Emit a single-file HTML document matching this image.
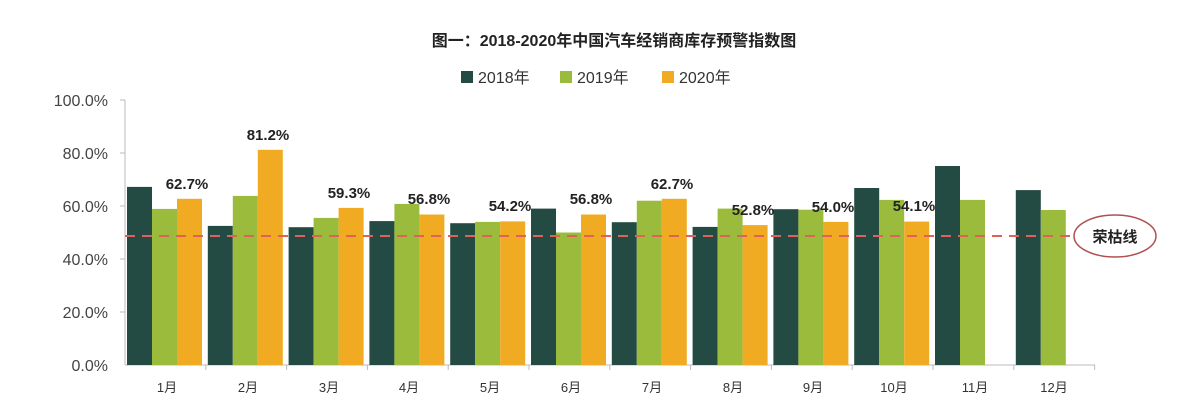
<!DOCTYPE html>
<html><head><meta charset="utf-8"><style>
body{margin:0;background:#fff;}
svg text{font-family:"Liberation Sans","Noto Sans CJK SC",sans-serif;}
</style></head><body>
<svg width="1188" height="408" xmlns="http://www.w3.org/2000/svg">
<text x="614" y="46" text-anchor="middle" font-size="16" font-weight="bold" fill="#222">图一：2018-2020年中国汽车经销商库存预警指数图</text>
<rect x="461" y="71" width="12" height="12" fill="#234a43"/><text x="478" y="83" font-size="16" fill="#333">2018年</text>
<rect x="560" y="71" width="12" height="12" fill="#9bbb3c"/><text x="577" y="83" font-size="16" fill="#333">2019年</text>
<rect x="662" y="71" width="12" height="12" fill="#f0ab23"/><text x="679" y="83" font-size="16" fill="#333">2020年</text>
<g font-size="16" fill="#444" text-anchor="end">
<text x="108" y="106">100.0%</text><text x="108" y="159">80.0%</text><text x="108" y="212">60.0%</text>
<text x="108" y="265">40.0%</text><text x="108" y="318">20.0%</text><text x="108" y="371">0.0%</text>
</g>
<line x1="125" y1="100" x2="125" y2="365" stroke="#bbb"/>
<line x1="125" y1="365" x2="1095" y2="365" stroke="#bbb"/>
<g stroke="#bbb">
<line x1="120" y1="100" x2="125" y2="100"/><line x1="120" y1="153" x2="125" y2="153"/><line x1="120" y1="206" x2="125" y2="206"/><line x1="120" y1="259" x2="125" y2="259"/><line x1="120" y1="312" x2="125" y2="312"/>
<line x1="205.8" y1="365" x2="205.8" y2="370"/><line x1="286.6" y1="365" x2="286.6" y2="370"/><line x1="367.4" y1="365" x2="367.4" y2="370"/><line x1="448.2" y1="365" x2="448.2" y2="370"/><line x1="529" y1="365" x2="529" y2="370"/><line x1="609.8" y1="365" x2="609.8" y2="370"/><line x1="690.6" y1="365" x2="690.6" y2="370"/><line x1="771.4" y1="365" x2="771.4" y2="370"/><line x1="852.2" y1="365" x2="852.2" y2="370"/><line x1="933" y1="365" x2="933" y2="370"/><line x1="1013.8" y1="365" x2="1013.8" y2="370"/><line x1="1094.6" y1="365" x2="1094.6" y2="370"/>
</g>
<g fill="#234a43">
<rect x="127" y="186.9" width="25" height="178.1"/>
<rect x="207.8" y="225.9" width="25" height="139.1"/>
<rect x="288.6" y="227.2" width="25" height="137.8"/>
<rect x="369.4" y="221.1" width="25" height="143.9"/>
<rect x="450.2" y="223.2" width="25" height="141.8"/>
<rect x="531" y="208.6" width="25" height="156.4"/>
<rect x="611.8" y="222.2" width="25" height="142.8"/>
<rect x="692.6" y="226.9" width="25" height="138.1"/>
<rect x="773.4" y="209.2" width="25" height="155.8"/>
<rect x="854.2" y="188" width="25" height="177"/>
<rect x="935" y="166" width="25" height="199"/>
<rect x="1015.8" y="190.1" width="25" height="174.9"/>
</g>
<g fill="#9bbb3c">
<rect x="152" y="208.9" width="25" height="156.1"/>
<rect x="232.8" y="195.9" width="25" height="169.1"/>
<rect x="313.6" y="217.9" width="25" height="147.1"/>
<rect x="394.4" y="203.9" width="25" height="161.1"/>
<rect x="475.2" y="221.9" width="25" height="143.1"/>
<rect x="556" y="232.5" width="25" height="132.5"/>
<rect x="636.8" y="200.7" width="25" height="164.3"/>
<rect x="717.6" y="208.6" width="25" height="156.4"/>
<rect x="798.4" y="209.7" width="25" height="155.3"/>
<rect x="879.2" y="199.9" width="25" height="165.1"/>
<rect x="960" y="199.9" width="25" height="165.1"/>
<rect x="1040.8" y="210" width="25" height="155"/>
</g>
<g fill="#f0ab23">
<rect x="177" y="198.8" width="25" height="166.2"/>
<rect x="257.8" y="149.8" width="25" height="215.2"/>
<rect x="338.6" y="207.9" width="25" height="157.1"/>
<rect x="419.4" y="214.5" width="25" height="150.5"/>
<rect x="500.2" y="221.4" width="25" height="143.6"/>
<rect x="581" y="214.5" width="25" height="150.5"/>
<rect x="661.8" y="198.8" width="25" height="166.2"/>
<rect x="742.6" y="225.1" width="25" height="139.9"/>
<rect x="823.4" y="221.9" width="25" height="143.1"/>
<rect x="904.2" y="221.6" width="25" height="143.4"/>
</g>
<g font-size="15" font-weight="bold" fill="#222" text-anchor="middle">
<text x="187" y="189">62.7%</text>
<text x="268" y="140">81.2%</text>
<text x="349" y="198">59.3%</text>
<text x="429" y="204">56.8%</text>
<text x="510" y="211">54.2%</text>
<text x="591" y="204">56.8%</text>
<text x="672" y="189">62.7%</text>
<text x="753" y="215">52.8%</text>
<text x="833" y="212">54.0%</text>
<text x="914" y="211">54.1%</text>
</g>
<g font-size="13" fill="#333" text-anchor="middle">
<text x="167" y="392">1月</text><text x="248" y="392">2月</text><text x="329" y="392">3月</text><text x="409" y="392">4月</text><text x="490" y="392">5月</text><text x="571" y="392">6月</text><text x="652" y="392">7月</text><text x="733" y="392">8月</text><text x="813" y="392">9月</text><text x="894" y="392">10月</text><text x="975" y="392">11月</text><text x="1054" y="392">12月</text>
</g>
<line x1="125" y1="236" x2="1074" y2="236" stroke="#e0605a" stroke-width="2" stroke-dasharray="10,7"/>
<ellipse cx="1115" cy="236" rx="41" ry="21" fill="#fff" stroke="#b05050" stroke-width="1.5"/>
<text x="1115" y="242" text-anchor="middle" font-size="15" font-weight="bold" fill="#222">荣枯线</text>
</svg>
</body></html>
